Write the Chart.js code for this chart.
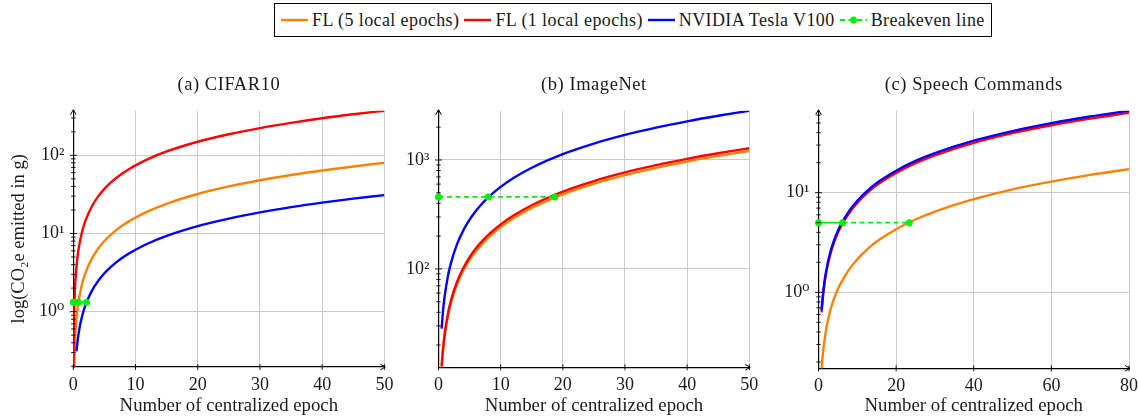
<!DOCTYPE html>
<html>
<head>
<meta charset="utf-8">
<script src="https://cdn.jsdelivr.net/npm/chart.js@4.4.0/dist/chart.umd.min.js"></script>
<style>
  html, body { margin:0; padding:0; background:#fff; width:1138px; height:417px; overflow:hidden;
    font-family:"Liberation Serif", "DejaVu Serif", serif; color:#1a1a1a; }
  canvas { position:absolute; top:0; }
  #legend { position:absolute; left:274px; top:3px; width:718px; height:34px; box-sizing:border-box;
    border:1px solid #000; display:flex; align-items:center; padding-left:6px; font-size:18px; letter-spacing:0.4px; white-space:nowrap; }
  #legend .sw { width:27px; height:8px; margin-right:4px; flex:none; }
  #legend .tx { margin-right:5px; }
  .ptitle { position:absolute; top:72px; line-height:24px; font-size:18.5px; letter-spacing:0.55px; white-space:nowrap; transform:translateX(-50%); }
</style>
</head>
<body>
<div id="legend"></div>
<canvas id="cA" width="400" height="417" style="left:0px"></canvas>
<canvas id="cB" width="370" height="417" style="left:395px"></canvas>
<canvas id="cC" width="368" height="417" style="left:770px"></canvas>
<script>
// ---------- text ----------
const seriesNames = ['FL (5 local epochs)', 'FL (1 local epochs)', 'NVIDIA Tesla V100', 'Breakeven line'];
const panelTitles = ['(a) CIFAR10', '(b) ImageNet', '(c) Speech Commands'];
const xAxisTitle = 'Number of centralized epoch';
const yAxisTitle = 'log(CO\u2082e emitted in g)';

// ---------- (a) CIFAR10 ----------
const cifarEpochs = [0.02, 0.1, 0.25, 0.5, 0.75, 1, 1.5, 2, 3, 4, 5, 6, 7, 8, 9, 10, 12, 15, 20, 25, 30, 35, 40, 45, 50];
const cifarFL5    = [null, 0.16, 0.4, 0.8, 1.2, 1.6, 2.4, 3.2, 4.8, 6.4, 8.0, 9.6, 11.2, 12.8, 14.4, 16, 19.2, 24, 32, 40, 48, 56, 64, 72, 80];
const cifarFL1    = [0.15, 0.74, 1.86, 3.7, 5.6, 7.4, 11.2, 14.9, 22.3, 29.8, 37.2, 44.6, 52.1, 59.5, 67, 74.4, 89.3, 112, 149, 186, 223, 260, 298, 335, 372];
const cifarV100   = [null, null, null, 0.31, 0.46, 0.62, 0.93, 1.24, 1.86, 2.48, 3.1, 3.72, 4.34, 4.96, 5.58, 6.2, 7.44, 9.3, 12.4, 15.5, 18.6, 21.7, 24.8, 27.9, 31];
const cifarBreakX = [0, 0.18, 0.83, 2.13];
const cifarBreakY = [1.32, 1.32, 1.32, 1.32];
const cifarXTicks = [0, 10, 20, 30, 40, 50];
const cifarYTicks = [1, 10, 100];
const cifarYLabels = ['10\u2070', '10\u00b9', '10\u00b2'];
const cifarXRange = [0, 50];
const cifarYRange = [0.196, 372];

// ---------- (b) ImageNet ----------
const imagenetEpochs = [0.5, 0.75, 1, 1.5, 2, 3, 4, 5, 6, 7, 8, 9, 10, 12, 15, 20, 25, 30, 35, 40, 45, 50];
const imagenetFL5    = [12.1, 18.2, 24.2, 36.3, 48.4, 72.6, 96.8, 121, 145, 169, 194, 218, 242, 290, 363, 484, 605, 726, 847, 968, 1089, 1210];
const imagenetFL1    = [12.8, 19.2, 25.6, 38.4, 51.2, 76.8, 102, 128, 154, 179, 205, 230, 256, 307, 384, 512, 640, 768, 896, 1024, 1152, 1280];
const imagenetV100   = [28.3, 42.5, 56.6, 85, 113, 170, 226, 283, 340, 396, 453, 509, 566, 679, 849, 1132, 1415, 1698, 1981, 2264, 2547, 2830];
const imagenetBreakX = [0, 8, 18.7];
const imagenetBreakY = [458, 458, 458];
const imagenetXTicks = [0, 10, 20, 30, 40, 50];
const imagenetYTicks = [100, 1000];
const imagenetYLabels = ['10\u00b2', '10\u00b3'];
const imagenetXRange = [0, 50];
const imagenetYRange = [12.5, 2833];

// ---------- (c) Speech Commands ----------
const speechEpochs = [0.6, 0.8, 1, 1.5, 2, 3, 4, 5, 6, 8, 10, 12, 15, 20, 25, 30, 40, 50, 60, 70, 80];
const speechFL5    = [0.13, 0.172, 0.215, 0.32, 0.43, 0.65, 0.86, 1.08, 1.29, 1.72, 2.15, 2.58, 3.23, 4.3, 5.38, 6.45, 8.6, 10.8, 12.9, 15.1, 17.2];
const speechFL1    = [null, 0.63, 0.79, 1.19, 1.58, 2.37, 3.16, 3.95, 4.74, 6.32, 7.9, 9.48, 11.9, 15.8, 19.8, 23.7, 31.6, 39.5, 47.4, 55.3, 63.2];
const speechV100   = [null, 0.66, 0.83, 1.25, 1.66, 2.49, 3.32, 4.15, 4.98, 6.64, 8.3, 9.96, 12.5, 16.6, 20.8, 24.9, 33.2, 41.5, 49.8, 58.1, 66.4];
const speechBreakX = [0, 6.2, 23.4];
const speechBreakY = [5.0, 5.0, 5.0];
const speechXTicks = [0, 20, 40, 60, 80];
const speechYTicks = [1, 10];
const speechYLabels = ['10\u2070', '10\u00b9'];
const speechXRange = [0, 80];
const speechYRange = [0.173, 66.4];

// ---------- styles ----------
const COLORS = ['rgb(255,128,0)', 'rgb(255,0,0)', 'rgb(0,0,255)', 'rgb(0,240,0)'];
const GRID = '#cbcbcb';
const TEXT = '#1a1a1a';
const FONT = '"Liberation Serif", "DejaVu Serif", serif';
const DASH = [5, 3.5];

// legend
(function () {
  const lg = document.getElementById('legend');
  seriesNames.forEach((name, i) => {
    const sw = document.createElementNS('http://www.w3.org/2000/svg', 'svg');
    sw.setAttribute('class', 'sw'); sw.setAttribute('viewBox', '0 0 27 8');
    if (i < 3) {
      sw.innerHTML = '<line x1="0" y1="4" x2="27" y2="4" stroke="' + COLORS[i] + '" stroke-width="2.4"/>';
    } else {
      sw.innerHTML = '<line x1="0" y1="4" x2="27" y2="4" stroke="' + COLORS[i] + '" stroke-width="1.8" stroke-dasharray="5 3.5"/>' +
                     '<circle cx="13.5" cy="4" r="3.4" fill="' + COLORS[i] + '"/>';
    }
    const tx = document.createElement('span');
    tx.className = 'tx'; tx.textContent = name;
    lg.appendChild(sw); lg.appendChild(tx);
  });
})();

const axisDecor = {
  id: 'axisDecor',
  afterDraw(chart) {
    const { ctx, chartArea: a, scales: { x, y } } = chart;
    ctx.save();
    ctx.strokeStyle = '#000'; ctx.fillStyle = '#000'; ctx.lineWidth = 0.9;
    ctx.beginPath();
    y.ticks.forEach(t => {
      const py = y.getPixelForValue(t.value);
      const len = t.label ? 3.5 : 2.2;
      ctx.moveTo(a.left - len, py); ctx.lineTo(a.left + len, py);
    });
    x.ticks.forEach(t => {
      const px = x.getPixelForValue(t.value);
      ctx.moveTo(px, a.bottom - 3); ctx.lineTo(px, a.bottom + 3);
    });
    ctx.stroke();
    ctx.lineWidth = 1;
    ctx.beginPath();
    ctx.moveTo(a.right - 4, a.bottom - 2.8); ctx.lineTo(a.right + 1, a.bottom); ctx.lineTo(a.right - 4, a.bottom + 2.8);
    ctx.moveTo(a.left - 2.8, a.top + 4); ctx.lineTo(a.left, a.top - 1); ctx.lineTo(a.left + 2.8, a.top + 4);
    ctx.stroke();
    ctx.restore();
  }
};

function pts(xs, ys) {
  return xs.map((x, i) => ({ x: x, y: ys[i] })).filter(p => p.y !== null && p.y !== undefined);
}

function buildPanel(p) {
  const majors = p.yTicks;
  const isMajor = v => majors.some(m => Math.abs(v / m - 1) < 1e-6);
  const yTickVals = [];
  for (let d = Math.floor(Math.log10(p.yRange[0])); d <= Math.ceil(Math.log10(p.yRange[1])); d++) {
    for (let k = 1; k <= 9; k++) {
      const v = k * Math.pow(10, d);
      if (v >= p.yRange[0] && v <= p.yRange[1]) yTickVals.push(v);
    }
  }
  const canvas = document.getElementById(p.id);
  const chart = new Chart(canvas, {
    type: 'line',
    data: {
      datasets: [
        { label: seriesNames[3], data: pts(p.breakX, p.breakY), borderColor: COLORS[3], backgroundColor: COLORS[3],
          borderWidth: 1.8, borderDash: DASH, pointRadius: 3.5, pointBorderWidth: 0, pointBackgroundColor: COLORS[3],
          clip: false, order: 0, cubicInterpolationMode: 'default', tension: 0,
          segment: { borderDash: c => (c.p0DataIndex < p.solidSegments ? [] : DASH) } },
        { label: seriesNames[2], data: pts(p.x, p.v100), borderColor: COLORS[2], order: 1 },
        { label: seriesNames[1], data: pts(p.x, p.fl1), borderColor: COLORS[1], order: 2 },
        { label: seriesNames[0], data: pts(p.x, p.fl5), borderColor: COLORS[0], order: 3 }
      ]
    },
    options: {
      responsive: false, animation: false, events: [],
      layout: { padding: { left: 0, right: p.padRight, top: 110.7, bottom: 0 } },
      plugins: { legend: { display: false }, tooltip: { enabled: false }, title: { display: false } },
      elements: {
        line: { borderWidth: 2.4, cubicInterpolationMode: 'monotone', fill: false },
        point: { radius: 0 }
      },
      scales: {
        x: {
          type: 'linear', min: p.xRange[0], max: p.xRange[1],
          afterBuildTicks: s => { s.ticks = p.xTicks.map(v => ({ value: v })); },
          ticks: { autoSkip: false, maxRotation: 0, padding: 7, color: TEXT, font: { family: FONT, size: 18 } },
          grid: { color: GRID, lineWidth: 1, drawTicks: false },
          border: { display: true, color: '#000', width: 1.2 },
          title: { display: true, text: xAxisTitle, color: TEXT, font: { family: FONT, size: 18.8 }, padding: { top: 0, bottom: 0 } },
          afterFit: s => { s.height = p.xHeight; s.paddingLeft = 0; s.paddingRight = 0; s.paddingTop = 0; s.paddingBottom = 0; }
        },
        y: {
          type: 'logarithmic', min: p.yRange[0], max: p.yRange[1],
          afterBuildTicks: s => { s.ticks = yTickVals.map(v => ({ value: v })); },
          ticks: {
            autoSkip: false, padding: 9, color: TEXT, font: { family: FONT, size: 18 },
            callback: v => { const i = majors.findIndex(m => Math.abs(v / m - 1) < 1e-6); return i >= 0 ? p.yLabels[i] : ''; }
          },
          grid: { color: c => (c.tick && isMajor(c.tick.value) ? GRID : 'rgba(0,0,0,0)'), lineWidth: 1, drawTicks: false },
          border: { display: true, color: '#000', width: 1.2 },
          title: { display: p.showYTitle, text: yAxisTitle, color: TEXT, font: { family: FONT, size: 18.5 }, padding: { top: 8, bottom: 0 } },
          afterFit: s => { s.width = p.yWidth; s.paddingTop = 0; s.paddingBottom = 0; s.paddingLeft = 0; s.paddingRight = 0; }
        }
      }
    },
    plugins: [axisDecor]
  });
  const t = document.createElement('div');
  t.className = 'ptitle';
  t.textContent = p.title;
  t.style.left = (parseFloat(canvas.style.left) + (chart.chartArea.left + chart.chartArea.right) / 2) + 'px';
  document.body.appendChild(t);
}

buildPanel({ id: 'cA', title: panelTitles[0], x: cifarEpochs, fl5: cifarFL5, fl1: cifarFL1, v100: cifarV100,
  breakX: cifarBreakX, breakY: cifarBreakY, xTicks: cifarXTicks, yTicks: cifarYTicks, yLabels: cifarYLabels,
  xRange: cifarXRange, yRange: cifarYRange, showYTitle: true, yWidth: 73.3, xHeight: 50, padRight: 15.6, solidSegments: 0 });
buildPanel({ id: 'cB', title: panelTitles[1], x: imagenetEpochs, fl5: imagenetFL5, fl1: imagenetFL1, v100: imagenetV100,
  breakX: imagenetBreakX, breakY: imagenetBreakY, xTicks: imagenetXTicks, yTicks: imagenetYTicks, yLabels: imagenetYLabels,
  xRange: imagenetXRange, yRange: imagenetYRange, showYTitle: false, yWidth: 43.5, xHeight: 49.7, padRight: 15.7, solidSegments: 0 });
buildPanel({ id: 'cC', title: panelTitles[2], x: speechEpochs, fl5: speechFL5, fl1: speechFL1, v100: speechV100,
  breakX: speechBreakX, breakY: speechBreakY, xTicks: speechXTicks, yTicks: speechYTicks, yLabels: speechYLabels,
  xRange: speechXRange, yRange: speechYRange, showYTitle: false, yWidth: 48.5, xHeight: 48.7, padRight: 9, solidSegments: 1 });
</script>
</body>
</html>
